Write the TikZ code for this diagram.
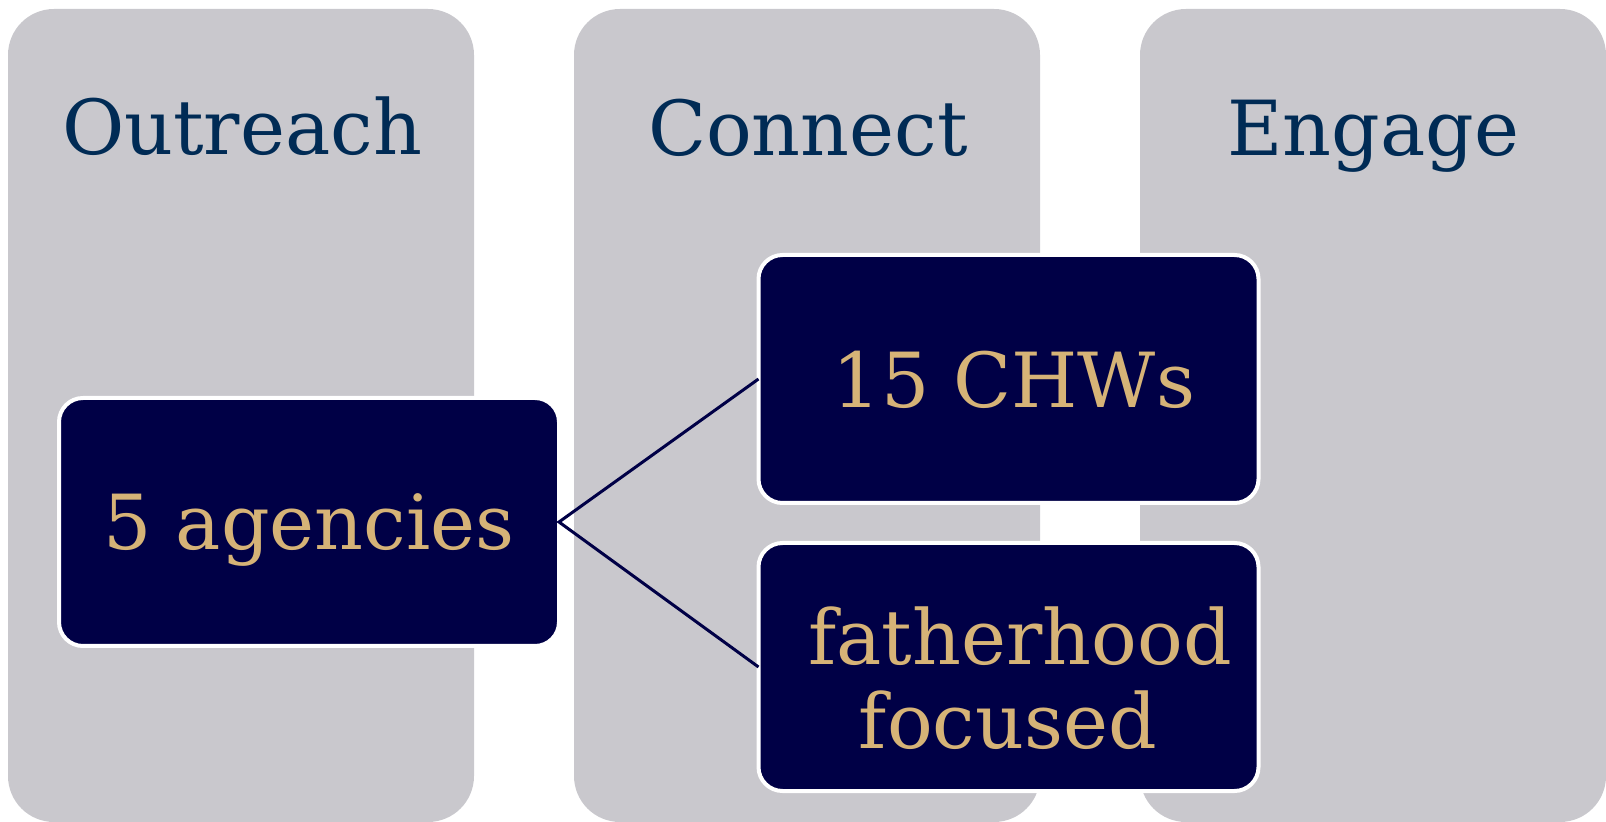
\documentclass[tikz,border=0pt]{standalone}
\usepackage{fontspec}
\setmainfont{DejaVu Serif}
\definecolor{colgrey}{HTML}{C9C8CD}
\definecolor{headnavy}{HTML}{002B55}
\definecolor{boxnavy}{HTML}{000046}
\definecolor{tantext}{HTML}{D6B377}
\begin{document}
\begin{tikzpicture}[x=0.5pt,y=-0.5pt,
  column/.style={fill=colgrey, draw=none, rounded corners=23pt, minimum width=233pt, minimum height=406.5pt, inner sep=0pt, outer sep=0pt},
  itembox/.style={fill=boxnavy, draw=white, line width=2pt, rounded corners=12pt, minimum width=250pt, minimum height=124pt, inner sep=0pt, outer sep=0pt},
  headtext/.style={text=headnavy, font=\fontsize{38}{42}\selectfont, anchor=base, inner sep=0pt},
  itemtext/.style={text=tantext, font=\fontsize{38}{42}\selectfont, inner sep=0pt},
  link/.style={draw=boxnavy, line width=1.5pt}]
\useasboundingbox (0,0) rectangle (1606,822);
% columns
\node[column] (c1) at (241,415.5) {};
\node[column] (c2) at (807,415.5) {};
\node[column] (c3) at (1373,415.5) {};
% headers
\node[headtext] (h1) at (242,155) {Outreach};
\node[headtext] (h2) at (808,156) {Connect};
\node[headtext] (h3) at (1373,156) {Engage};
% boxes
\node[itembox] (ag) at (309,522) {};
\node[itembox] (chw) at (1008.5,379) {};
\node[itembox] (fat) at (1008.5,667) {};
% connectors
\draw[link] (chw.west) -- (ag.east) -- (fat.west);
% texts
\node[itemtext, anchor=base] (agt) at (309,550) {5 agencies};
\node[itemtext, anchor=base] (chwt) at (1014,408) {15 CHWs};
\node[itemtext, align=center] (fatt) at (1008,678.5) {\hspace*{0.32em}fatherhood\\focused};
\end{tikzpicture}
\end{document}
